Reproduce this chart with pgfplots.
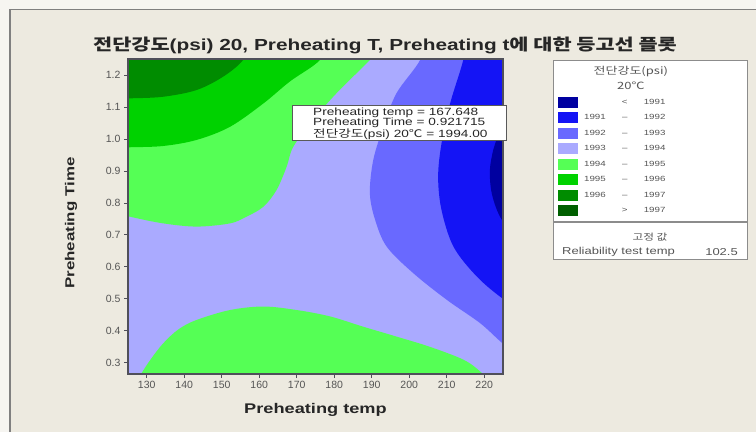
\documentclass[border=0pt]{standalone}
\usepackage{fontspec}
\setmainfont{Liberation Sans}
\newfontfamily\wide{Liberation Sans}[FakeStretch=1.3]
\newfontfamily\krw{Noto Sans CJK KR}[FakeStretch=1.3]
\usepackage{pgfplots}
\pgfplotsset{compat=1.18}
\definecolor{bgout}{RGB}{246,245,241}
\definecolor{bgin}{RGB}{237,234,224}
\definecolor{framegray}{RGB}{128,128,128}
\definecolor{axgray}{RGB}{80,80,90}
\definecolor{tickgray}{RGB}{85,85,85}
\definecolor{leggray}{RGB}{140,140,140}
\definecolor{c1}{RGB}{0,0,160}
\definecolor{c2}{RGB}{20,20,245}
\definecolor{c3}{RGB}{105,105,255}
\definecolor{c4}{RGB}{170,170,255}
\definecolor{c5}{RGB}{85,255,85}
\definecolor{c6}{RGB}{0,210,0}
\definecolor{c7}{RGB}{0,140,0}
\definecolor{c8}{RGB}{0,95,0}
\newcommand{\ttl}[1]{\makebox[158pt][l]{\makebox[90pt][c]{#1}}}
\newcommand{\ent}[3]{\makebox[158pt][l]{\makebox[20pt][r]{#1}\makebox[38pt][c]{#2}#3}}
\newcommand{\sw}[1]{\addlegendimage{legend image code/.code={\fill[#1] (0pt,-5pt) rectangle (19pt,5pt);}}}
\begin{document}
\begin{tikzpicture}
\useasboundingbox (0pt,0pt) rectangle (756pt,432pt);
\fill[bgout] (0pt,0pt) rectangle (756pt,432pt);
\fill[bgin] (9pt,0pt) rectangle (756pt,423pt);
\draw[framegray, line width=1.5pt] (9.75pt,0pt) -- (9.75pt,422.25pt) -- (756pt,422.25pt);
\node[font=\wide\bfseries\fontsize{16}{18}\selectfont, text=black!85] at (385pt,387pt)
  {{\krw 전단강도}(psi) 20, Preheating T, Preheating t{\krw 에 대한 등고선 플롯}};
\begin{axis}[
  at={(128pt,58pt)}, anchor=south west,
  scale only axis, width=375pt, height=315pt,
  xmin=125, xmax=225, ymin=0.265, ymax=1.25,
  xtick={130,140,...,220}, ytick={0.3,0.4,...,1.2},
  yticklabel style={/pgf/number format/.cd, fixed, fixed zerofill, precision=1},
  /pgf/number format/assume math mode=true,
  tick align=outside, tick pos=left, major tick length=4pt,
  axis line style={draw=axgray, line width=1.3pt},
  tick style={draw=axgray, line width=0.8pt},
  ticklabel style={font=\fontsize{10.5}{12}\selectfont, text=tickgray},
  xlabel={Preheating temp}, ylabel={Preheating Time},
  xlabel style={font=\wide\bfseries\fontsize{14}{16}\selectfont, text=black!85, at={(axis description cs:0.5,-0.1143)}, anchor=center},
  ylabel style={font=\wide\bfseries\fontsize{13}{16}\selectfont, text=black!85, at={(axis description cs:-0.152,0.479)}, anchor=center},
  axis on top,
  legend style={at={(axis description cs:1.13333,0.99683)}, anchor=north west,
    draw=leggray, line width=1.2pt, fill=white, inner xsep=4pt, inner ysep=3pt,
    font=\wide\fontsize{7.5}{9}\selectfont, text=tickgray, row sep=0pt,
    nodes={inner sep=0pt, minimum height=15.5pt},
    /tikz/every odd column/.append style={column sep=8pt}},
  legend cell align=left,
]
% 1993-1994 background
\addplot[fill=c4, draw=none, forget plot] coordinates {(115,0.15) (235,0.15) (235,1.45) (115,1.45)};
% top-left 1994-1995
\addplot[fill=c5, draw=none, smooth, tension=0.55, forget plot] coordinates {
 (112,1.45) (200,1.45) (196,1.33) (189.5,1.247) (180.6,1.143) (174.4,1.06) (169.1,0.976)
 (167.3,0.913) (164.6,0.84) (161.1,0.788) (156.6,0.757) (152.2,0.736) (143.3,0.726)
 (134.4,0.736) (125.5,0.757) (118,0.78) (112,0.80)};
% 1995-1996
\addplot[fill=c6, draw=none, smooth, tension=0.55, forget plot] coordinates {
 (112,1.45) (182,1.45) (179,1.32) (176.2,1.247) (168.2,1.18) (161.1,1.111) (152.2,1.038)
 (143.3,0.997) (134.4,0.978) (125.5,0.974) (118,0.972) (112,0.97)};
% 1996-1997
\addplot[fill=c7, draw=none, smooth, tension=0.55, forget plot] coordinates {
 (112,1.45) (161,1.45) (158,1.31) (155.7,1.247) (150.4,1.195) (143.3,1.153) (134.4,1.132)
 (125.5,1.127) (118,1.126) (112,1.125)};
% bottom 1994-1995
\addplot[fill=c5, draw=none, smooth, tension=0.55, forget plot] coordinates {
 (115,0.10) (122,0.15) (126.5,0.22) (128.5,0.265) (131,0.31) (134.4,0.361) (138.5,0.405)
 (143.3,0.434) (152.2,0.465) (161.1,0.476) (170,0.465) (178.9,0.445) (187.7,0.413)
 (196.6,0.382) (205.5,0.35) (214.4,0.31) (218.9,0.273) (221,0.24) (224,0.15) (230,0.10)};
% 1992-1993
\addplot[fill=c3, draw=none, smooth, tension=0.55, forget plot] coordinates {
 (206,1.45) (204.5,1.33) (202.9,1.247) (196.6,1.143) (193.1,1.038) (190.4,0.934)
 (189.5,0.83) (190.9,0.747) (194,0.663) (201.1,0.58) (210,0.497) (218.9,0.424)
 (225,0.36) (232,0.30) (240,0.28) (240,1.45)};
% 1991-1992
\addplot[fill=c2, draw=none, smooth, tension=0.55, forget plot] coordinates {
 (216,1.45) (215.3,1.33) (214.4,1.247) (210.9,1.111) (208.6,0.986) (207.7,0.882)
 (208.6,0.778) (211.8,0.663) (218,0.57) (225,0.50) (232,0.45) (240,0.42) (240,1.45)};
% <1991
\addplot[fill=c1, draw=none, smooth, tension=0.55, forget plot] coordinates {
 (232,1.15) (226,1.06) (223.3,1.0) (222.4,0.966) (221.5,0.903) (222,0.83) (224.2,0.757)
 (228,0.70) (235,0.65) (240,0.65)};
\addlegendimage{empty legend}\addlegendentry{\ttl{\krw\fontsize{10}{11}\selectfont 전단강도(psi)}}
\addlegendimage{empty legend}\addlegendentry{\ttl{\krw\fontsize{10}{11}\selectfont 20℃}}
\sw{c1}\addlegendentry{\ent{}{<}{1991}}
\sw{c2}\addlegendentry{\ent{1991}{–}{1992}}
\sw{c3}\addlegendentry{\ent{1992}{–}{1993}}
\sw{c4}\addlegendentry{\ent{1993}{–}{1994}}
\sw{c5}\addlegendentry{\ent{1994}{–}{1995}}
\sw{c6}\addlegendentry{\ent{1995}{–}{1996}}
\sw{c7}\addlegendentry{\ent{1996}{–}{1997}}
\sw{c8}\addlegendentry{\ent{}{>}{1997}}
\end{axis}
% hold values box
\node[draw=leggray, line width=1.2pt, fill=white, anchor=north west, minimum width=194pt, minimum height=37pt, inner sep=0pt] at (553pt,210pt) {};
\node[font=\krw\fontsize{9}{10}\selectfont, text=tickgray] at (650pt,195pt) {고정 값};
\node[font=\wide\fontsize{10}{11}\selectfont, text=tickgray, anchor=west, inner sep=0pt] at (562pt,180pt) {Reliability test temp};
\node[font=\wide\fontsize{10}{11}\selectfont, text=tickgray, anchor=east, inner sep=0pt] at (738pt,180pt) {102.5};
% tooltip
\node[draw=black!65, line width=0.8pt, fill=white, anchor=north west, minimum width=214pt, minimum height=35pt, inner sep=0pt] at (292pt,327pt) {};
\node[font=\wide\fontsize{10.5}{10}\selectfont, text=black!85, anchor=north west, align=left, inner sep=0pt] at (313pt,324pt)
  {Preheating temp = 167.648\\Preheating Time = 0.921715\\{\krw 전단강도}(psi) 20{\krw ℃} = 1994.00};
\end{tikzpicture}
\end{document}
